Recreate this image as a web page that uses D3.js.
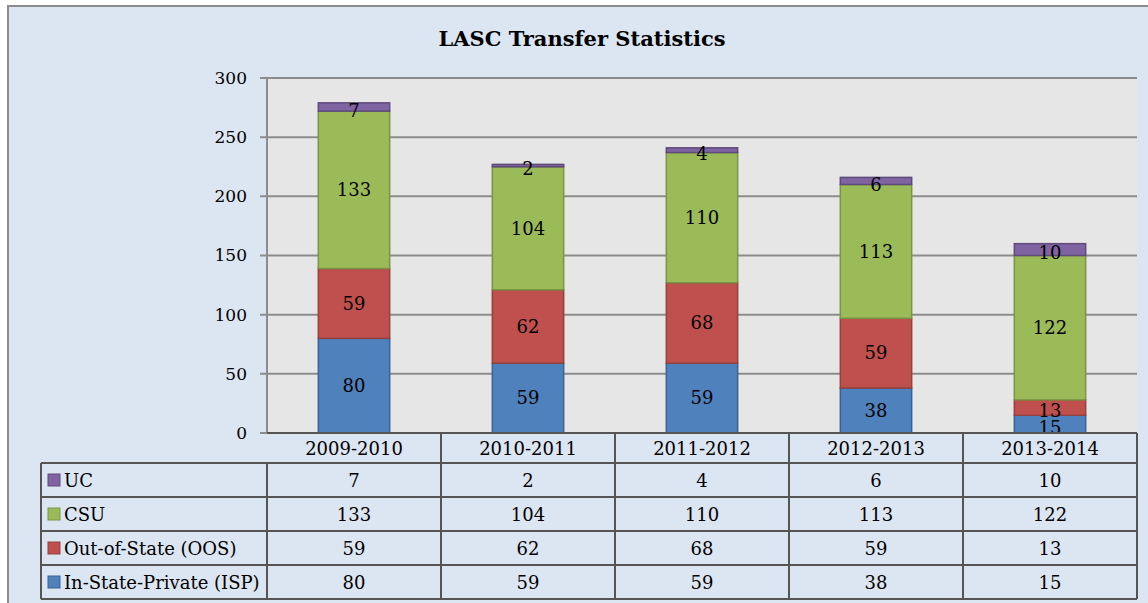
<!DOCTYPE html>
<html>
<head>
<meta charset="utf-8">
<script src="https://cdn.jsdelivr.net/npm/d3@7"></script>
<style>
  body { margin: 0; background: #fff; }
  svg text { font-family: "DejaVu Serif", "Liberation Serif", serif; fill: #000; }
</style>
</head>
<body>
<svg id="chart" width="1148" height="603"></svg>
<script>
// data
var years = ["2009-2010", "2010-2011", "2011-2012", "2012-2013", "2013-2014"];
var seriesNames = ["In-State-Private (ISP)", "Out-of-State (OOS)", "CSU", "UC"];
var isp = [80, 59, 59, 38, 15];
var oos = [59, 62, 68, 59, 13];
var csu = [133, 104, 110, 113, 122];
var uc = [7, 2, 4, 6, 10];
var yTicks = [0, 50, 100, 150, 200, 250, 300];

var fills = ["#4F81BD", "#C0504D", "#9BBB59", "#8064A2"];
var strokes = ["#3A6393", "#94403D", "#789444", "#5F4B7B"];

var svg = d3.select("#chart");
var margin = { left: 267, right: 1137, top: 78, bottom: 433 };

// outer chart area
svg.append("rect")
    .attr("x", 8).attr("y", 6)
    .attr("width", 1200).attr("height", 700)
    .attr("fill", "#DCE6F2")
    .attr("stroke", "#8C8C8C")
    .attr("stroke-width", 2);

// title
svg.append("text")
    .attr("x", 582).attr("y", 46)
    .attr("text-anchor", "middle")
    .style("font-size", "21px")
    .style("font-weight", "bold")
    .text("LASC Transfer Statistics");

var x = d3.scaleBand()
    .domain(years)
    .range([margin.left, margin.right])
    .paddingInner(0)
    .paddingOuter(0);

var y = d3.scaleLinear()
    .domain([0, 300])
    .range([margin.bottom, margin.top]);

// plot background
svg.append("rect")
    .attr("x", margin.left).attr("y", margin.top)
    .attr("width", margin.right - margin.left)
    .attr("height", margin.bottom - margin.top)
    .attr("fill", "#E6E6E6");

// gridlines
svg.append("g")
  .selectAll("line")
  .data(yTicks)
  .enter().append("line")
    .attr("x1", margin.left - 7)
    .attr("x2", margin.right)
    .attr("y1", function(d) { return y(d); })
    .attr("y2", function(d) { return y(d); })
    .attr("stroke", "#8C8C8C")
    .attr("stroke-width", 2);

// y axis line
svg.append("line")
    .attr("x1", margin.left).attr("x2", margin.left)
    .attr("y1", margin.top).attr("y2", margin.bottom)
    .attr("stroke", "#8C8C8C")
    .attr("stroke-width", 2);

// y tick labels
svg.append("g")
  .selectAll("text")
  .data(yTicks)
  .enter().append("text")
    .attr("x", 247)
    .attr("y", function(d) { return y(d); })
    .attr("dy", "0.35em")
    .attr("text-anchor", "end")
    .style("font-size", "17px")
    .text(function(d) { return d; });

// stacked bars
var rows = years.map(function(yr, i) {
    return { year: yr, isp: isp[i], oos: oos[i], csu: csu[i], uc: uc[i] };
});
var stack = d3.stack().keys(["isp", "oos", "csu", "uc"]);
var layers = stack(rows);

var barW = x.bandwidth() * 0.41;

var layerG = svg.append("g")
  .selectAll("g")
  .data(layers)
  .enter().append("g");

layerG.selectAll("rect")
  .data(function(d, i) { return d.map(function(p) { return { p: p, k: i }; }); })
  .enter().append("rect")
    .attr("x", function(d) { return x(d.p.data.year) + (x.bandwidth() - barW) / 2; })
    .attr("y", function(d) { return y(d.p[1]); })
    .attr("width", barW)
    .attr("height", function(d) { return y(d.p[0]) - y(d.p[1]); })
    .attr("fill", function(d) { return fills[d.k]; })
    .attr("stroke", function(d) { return strokes[d.k]; })
    .attr("stroke-width", 1.5);

layerG.selectAll("text")
  .data(function(d) { return d; })
  .enter().append("text")
    .attr("x", function(d) { return x(d.data.year) + x.bandwidth() / 2; })
    .attr("y", function(d) { return (y(d[0]) + y(d[1])) / 2; })
    .attr("dy", function(d) { return (d[1] - d[0]) < 20 ? "0.55em" : "0.35em"; })
    .attr("text-anchor", "middle")
    .style("font-size", "18px")
    .text(function(d) { return d[1] - d[0]; });

// data table
var tableLeft = 41, headTop = margin.bottom, headBottom = 463, rowH = 34;
var tableRows = [
    { name: "UC", vals: uc, k: 3 },
    { name: "CSU", vals: csu, k: 2 },
    { name: "Out-of-State (OOS)", vals: oos, k: 1 },
    { name: "In-State-Private (ISP)", vals: isp, k: 0 }
];
var tableBottom = headBottom + rowH * tableRows.length;
var lineColor = "#555555";

var tbl = svg.append("g");

// header category labels
tbl.selectAll("text.head")
  .data(years)
  .enter().append("text")
    .attr("class", "head")
    .attr("x", function(d) { return x(d) + x.bandwidth() / 2; })
    .attr("y", (headTop + headBottom) / 2)
    .attr("dy", "0.38em")
    .attr("text-anchor", "middle")
    .style("font-size", "18px")
    .text(function(d) { return d; });

// vertical lines
var vx = years.map(function(d) { return x(d); }).concat([margin.right]);
tbl.selectAll("line.v")
  .data(vx)
  .enter().append("line")
    .attr("x1", function(d) { return d; })
    .attr("x2", function(d) { return d; })
    .attr("y1", function(d, i) { return i === 0 ? headBottom : headTop; })
    .attr("y2", tableBottom)
    .attr("stroke", lineColor)
    .attr("stroke-width", 2);
tbl.append("line")
    .attr("x1", tableLeft).attr("x2", tableLeft)
    .attr("y1", headBottom).attr("y2", tableBottom)
    .attr("stroke", lineColor).attr("stroke-width", 2);

// horizontal lines
var hy = d3.range(tableRows.length + 1).map(function(i) { return headBottom + i * rowH; });
tbl.selectAll("line.h")
  .data(hy)
  .enter().append("line")
    .attr("x1", tableLeft)
    .attr("x2", margin.right)
    .attr("y1", function(d) { return d; })
    .attr("y2", function(d) { return d; })
    .attr("stroke", lineColor)
    .attr("stroke-width", 2);
tbl.append("line")
    .attr("x1", margin.left).attr("x2", margin.right)
    .attr("y1", headTop).attr("y2", headTop)
    .attr("stroke", lineColor).attr("stroke-width", 2);

var rowG = tbl.selectAll("g.row")
  .data(tableRows)
  .enter().append("g")
    .attr("transform", function(d, i) { return "translate(0," + (headBottom + i * rowH) + ")"; });

rowG.append("rect")
    .attr("x", 48).attr("y", rowH / 2 - 6)
    .attr("width", 12).attr("height", 12)
    .attr("fill", function(d) { return fills[d.k]; })
    .attr("stroke", function(d) { return strokes[d.k]; })
    .attr("stroke-width", 1);

rowG.append("text")
    .attr("x", 64).attr("y", rowH / 2)
    .attr("dy", "0.38em")
    .style("font-size", "18px")
    .text(function(d) { return d.name; });

rowG.selectAll("text.val")
  .data(function(d) { return d.vals.map(function(v, i) { return { v: v, yr: years[i] }; }); })
  .enter().append("text")
    .attr("class", "val")
    .attr("x", function(d) { return x(d.yr) + x.bandwidth() / 2; })
    .attr("y", rowH / 2)
    .attr("dy", "0.38em")
    .attr("text-anchor", "middle")
    .style("font-size", "18px")
    .text(function(d) { return d.v; });
</script>
</body>
</html>
